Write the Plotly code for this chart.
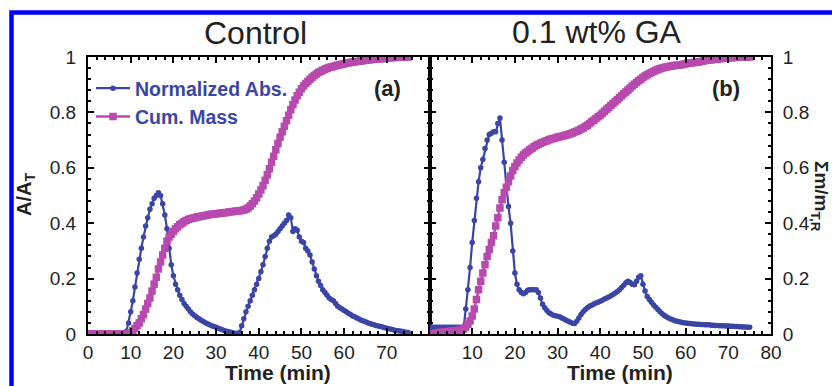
import numpy as np
import plotly.graph_objects as go

# time grid (min)
time = np.arange(0, 75.5, 0.5)

# Panel (a) Control
abs_a = [
    0, 0, 0, 0, 0, 0, 0, 0, 0, 0,
    0, 0, 0, 0, 0, 0, 0, 0, 0.01, 0.04,
    0.08, 0.12, 0.17, 0.22, 0.27, 0.31, 0.35, 0.39, 0.42, 0.45,
    0.47, 0.49, 0.50, 0.51, 0.50, 0.47, 0.43, 0.38, 0.31, 0.25,
    0.21, 0.18, 0.16, 0.14, 0.125, 0.11, 0.10, 0.09, 0.08, 0.072,
    0.066, 0.06, 0.055, 0.05, 0.045, 0.041, 0.037, 0.033, 0.03, 0.027,
    0.024, 0.021, 0.018, 0.015, 0.012, 0.01, 0.008, 0.006, 0.004, 0.003,
    0.002, 0.005, 0.03, 0.055, 0.08, 0.10, 0.12, 0.14, 0.16, 0.18,
    0.20, 0.225, 0.25, 0.28, 0.31, 0.335, 0.35, 0.355, 0.36, 0.37,
    0.38, 0.39, 0.40, 0.41, 0.43, 0.42, 0.37, 0.38, 0.375, 0.35,
    0.335, 0.33, 0.31, 0.30, 0.285, 0.26, 0.235, 0.21, 0.19, 0.175,
    0.16, 0.15, 0.14, 0.13, 0.125, 0.12, 0.11, 0.10, 0.095, 0.09,
    0.085, 0.08, 0.075, 0.07, 0.065, 0.062, 0.058, 0.054, 0.05, 0.047,
    0.044, 0.041, 0.038, 0.035, 0.033, 0.031, 0.029, 0.027, 0.025, 0.023,
    0.021, 0.019, 0.017, 0.015, 0.013, 0.012, 0.011, 0.01, 0.008, 0.006,
    0.005,
]
mass_a = [
    0, 0, 0, 0, 0, 0, 0, 0, 0, 0,
    0, 0, 0, 0, 0, 0, 0, 0, 0, 0,
    0.005, 0.012, 0.02, 0.03, 0.04, 0.055, 0.07, 0.09, 0.11, 0.13,
    0.155, 0.18, 0.205, 0.235, 0.26, 0.285, 0.31, 0.335, 0.35, 0.36,
    0.37, 0.38, 0.387, 0.394, 0.40, 0.405, 0.41, 0.413, 0.416, 0.418,
    0.42, 0.422, 0.423, 0.425, 0.427, 0.428, 0.43, 0.431, 0.432, 0.433,
    0.434, 0.435, 0.436, 0.437, 0.438, 0.439, 0.44, 0.441, 0.442, 0.443,
    0.444, 0.445, 0.446, 0.448, 0.45, 0.455, 0.462, 0.47, 0.48, 0.492,
    0.505, 0.52, 0.535, 0.555, 0.575, 0.597, 0.62, 0.642, 0.665, 0.688,
    0.71, 0.73, 0.75, 0.77, 0.79, 0.81, 0.828, 0.845, 0.86, 0.873,
    0.885, 0.895, 0.904, 0.912, 0.92, 0.927, 0.933, 0.939, 0.944, 0.948,
    0.952, 0.956, 0.959, 0.962, 0.964, 0.966, 0.968, 0.970, 0.972, 0.974,
    0.976, 0.977, 0.979, 0.98, 0.982, 0.983, 0.984, 0.985, 0.986, 0.987,
    0.988, 0.989, 0.99, 0.991, 0.992, 0.993, 0.993, 0.994, 0.995, 0.995,
    0.996, 0.997, 0.997, 0.998, 0.998, 0.999, 0.999, 1.0, 1.0, 1.0,
    1.0,
]

# Panel (b) 0.1 wt% GA
abs_b = [
    0.024, 0.024, 0.024, 0.024, 0.024, 0.024, 0.024, 0.024, 0.024, 0.024,
    0.024, 0.024, 0.024, 0.024, 0.024, 0.024, 0.024, 0.09, 0.16, 0.24,
    0.33, 0.41, 0.49, 0.55, 0.60, 0.63, 0.67, 0.70, 0.72, 0.725,
    0.73, 0.73, 0.76, 0.78, 0.70, 0.62, 0.53, 0.46, 0.40, 0.30,
    0.22, 0.18, 0.16, 0.15, 0.145, 0.15, 0.158, 0.16, 0.16, 0.16,
    0.16, 0.15, 0.13, 0.107, 0.095, 0.085, 0.077, 0.072, 0.068, 0.066,
    0.064, 0.062, 0.058, 0.054, 0.05, 0.046, 0.042, 0.039, 0.038, 0.046,
    0.058, 0.07, 0.08, 0.088, 0.095, 0.10, 0.104, 0.108, 0.112, 0.115,
    0.118, 0.122, 0.126, 0.13, 0.134, 0.138, 0.143, 0.148, 0.153, 0.16,
    0.168, 0.176, 0.185, 0.19, 0.186, 0.18, 0.178, 0.19, 0.205, 0.21,
    0.18, 0.155, 0.135, 0.125, 0.115, 0.105, 0.097, 0.088, 0.08, 0.073,
    0.067, 0.062, 0.058, 0.054, 0.051, 0.048, 0.046, 0.044, 0.042, 0.041,
    0.04, 0.039, 0.038, 0.037, 0.036, 0.035, 0.035, 0.034, 0.034, 0.033,
    0.033, 0.033, 0.032, 0.032, 0.031, 0.031, 0.03, 0.03, 0.03, 0.029,
    0.029, 0.028, 0.028, 0.027, 0.027, 0.026, 0.026, 0.025, 0.025, 0.024,
    0.024,
]
mass_b = [
    0.0, 0.001, 0.002, 0.003, 0.004, 0.005, 0.006, 0.007, 0.008, 0.009,
    0.01, 0.011, 0.012, 0.013, 0.014, 0.016, 0.018, 0.024, 0.035, 0.047,
    0.065, 0.09, 0.125, 0.16, 0.19, 0.22, 0.25, 0.28, 0.305, 0.33,
    0.355, 0.39, 0.42, 0.455, 0.485, 0.51, 0.53, 0.55, 0.57, 0.59,
    0.605, 0.617, 0.628, 0.638, 0.646, 0.653, 0.659, 0.665, 0.671, 0.676,
    0.681, 0.685, 0.689, 0.692, 0.695, 0.698, 0.701, 0.704, 0.706, 0.708,
    0.71, 0.712, 0.714, 0.716, 0.718, 0.72, 0.723, 0.726, 0.729, 0.732,
    0.736, 0.74, 0.744, 0.749, 0.754, 0.76, 0.766, 0.772, 0.778, 0.784,
    0.79, 0.797, 0.804, 0.811, 0.818, 0.825, 0.832, 0.839, 0.846, 0.853,
    0.86, 0.867, 0.874, 0.881, 0.888, 0.895, 0.902, 0.908, 0.914, 0.92,
    0.926, 0.931, 0.936, 0.94, 0.944, 0.948, 0.952, 0.955, 0.958, 0.96,
    0.962, 0.964, 0.966, 0.967, 0.968, 0.969, 0.97, 0.971, 0.972, 0.974,
    0.976, 0.977, 0.978, 0.979, 0.98, 0.981, 0.982, 0.984, 0.985, 0.987,
    0.988, 0.989, 0.99, 0.991, 0.992, 0.993, 0.994, 0.995, 0.996, 0.996,
    0.997, 0.997, 0.998, 0.998, 0.999, 0.999, 1.0, 1.0, 1.0, 1.0,
    1.0,
]

x_ticks_a = [0, 10, 20, 30, 40, 50, 60, 70]
x_ticks_b = [10, 20, 30, 40, 50, 60, 70, 80]
y_ticks = [0, 0.2, 0.4, 0.6, 0.8, 1]
y_ticktext = ["0", "0.2", "0.4", "0.6", "0.8", "1"]

BLUE = "#3a45a6"
PINK = "#b84aae"
FONT = "Liberation Sans, Arial, sans-serif"

W, H = 832, 386
L, R, T, B = 88, 61, 57, 52
pw, ph = W - L - R, H - T - B


def px(x):
    return (x - L) / pw


def py(y):
    return (H - B - y) / ph


fig = go.Figure()

for (xs, ab, ms, xa, ya, show) in [
    (time, abs_a, mass_a, "x", "y", True),
    (time, abs_b, mass_b, "x2", "y2", False),
]:
    fig.add_trace(go.Scatter(
        x=xs, y=ab, xaxis=xa, yaxis=ya, mode="lines+markers",
        name="<b>Normalized Abs.</b>", showlegend=show, legendgroup="abs",
        line=dict(color=BLUE, width=2.2),
        marker=dict(symbol="circle", size=5.5, color=BLUE),
    ))
    fig.add_trace(go.Scatter(
        x=xs, y=ms, xaxis=xa, yaxis=ya, mode="lines+markers",
        name="<b>Cum. Mass</b>", showlegend=show, legendgroup="mass",
        line=dict(color=PINK, width=2.5),
        marker=dict(symbol="square", size=7.5, color=PINK),
    ))

axis_common = dict(
    showline=True, linecolor="black", linewidth=2,
    ticks="inside", ticklen=6, tickwidth=1.5, tickcolor="black",
    mirror="ticks", showgrid=False, zeroline=False, automargin=False,
    tickfont=dict(family=FONT, size=19, color="#222"),
)

fig.update_layout(
    width=W, height=H,
    margin=dict(l=L, r=R, t=T, b=B, pad=0, autoexpand=False),
    paper_bgcolor="white", plot_bgcolor="white",
    font=dict(family=FONT, color="#222"),
    xaxis=dict(domain=[0, 0.5], range=[0, 80], anchor="y",
               tickvals=x_ticks_a,
               minor=dict(dtick=2, ticks="inside", ticklen=3, tickcolor="black"),
               **axis_common),
    yaxis=dict(domain=[0, 1], range=[0, 1], anchor="x",
               tickvals=y_ticks, ticktext=y_ticktext, ticklabelstandoff=6,
               minor=dict(dtick=0.04, ticks="inside", ticklen=3, tickcolor="black"),
               **axis_common),
    xaxis2=dict(domain=[0.5, 1], range=[0, 80], anchor="y2",
                tickvals=x_ticks_b,
                minor=dict(dtick=2, ticks="inside", ticklen=3, tickcolor="black"),
                **axis_common),
    yaxis2=dict(domain=[0, 1], range=[0, 1], anchor="x2", side="right",
                tickvals=y_ticks, ticktext=y_ticktext, ticklabelstandoff=6,
                minor=dict(dtick=0.04, ticks="inside", ticklen=3, tickcolor="black"),
                **axis_common),
    legend=dict(x=px(91), y=py(69), xanchor="left", yanchor="top",
                bgcolor="rgba(0,0,0,0)", borderwidth=0,
                font=dict(family=FONT, size=19.5, color=BLUE),
                tracegroupgap=0, itemwidth=34),
    showlegend=True,
)

annotations = [
    dict(text="Control", x=px(255), y=py(33), showarrow=False,
         font=dict(family=FONT, size=32, color="#222")),
    dict(text="0.1 wt% GA", x=px(597), y=py(32), showarrow=False,
         font=dict(family=FONT, size=32, color="#222")),
    dict(text="<b>(a)</b>", x=px(387), y=py(88), showarrow=False,
         font=dict(family=FONT, size=22, color="#222")),
    dict(text="<b>(b)</b>", x=px(726), y=py(88), showarrow=False,
         font=dict(family=FONT, size=22, color="#222")),
    dict(text="<b>Time (min)</b>", x=px(278), y=py(372), showarrow=False,
         font=dict(family=FONT, size=21, color="#222")),
    dict(text="<b>Time (min)</b>", x=px(620), y=py(372), showarrow=False,
         font=dict(family=FONT, size=21, color="#222")),
    dict(text="<b>A/A<sub>T</sub></b>", x=px(25), y=py(195), showarrow=False,
         textangle=-90, font=dict(family=FONT, size=20, color="#222")),
    dict(text="<b>Σm/m<sub>T,R</sub></b>", x=px(820), y=py(196), showarrow=False,
         textangle=90, font=dict(family=FONT, size=19, color="#222")),
]
for a in annotations:
    a.update(xref="paper", yref="paper", xanchor="center", yanchor="middle")
fig.update_layout(annotations=annotations)

# blue frame around figure
fig.add_shape(type="rect", xref="paper", yref="paper",
              x0=px(11.5), x1=px(W + 20), y0=py(12.5), y1=py(H + 20),
              line=dict(color="#0000ff", width=4.5), fillcolor="rgba(0,0,0,0)",
              layer="above")

fig.write_html(
    "out.html",
    config={"displayModeBar": False},
    post_script="document.body.style.margin='0';document.body.style.overflow='hidden';",
)
